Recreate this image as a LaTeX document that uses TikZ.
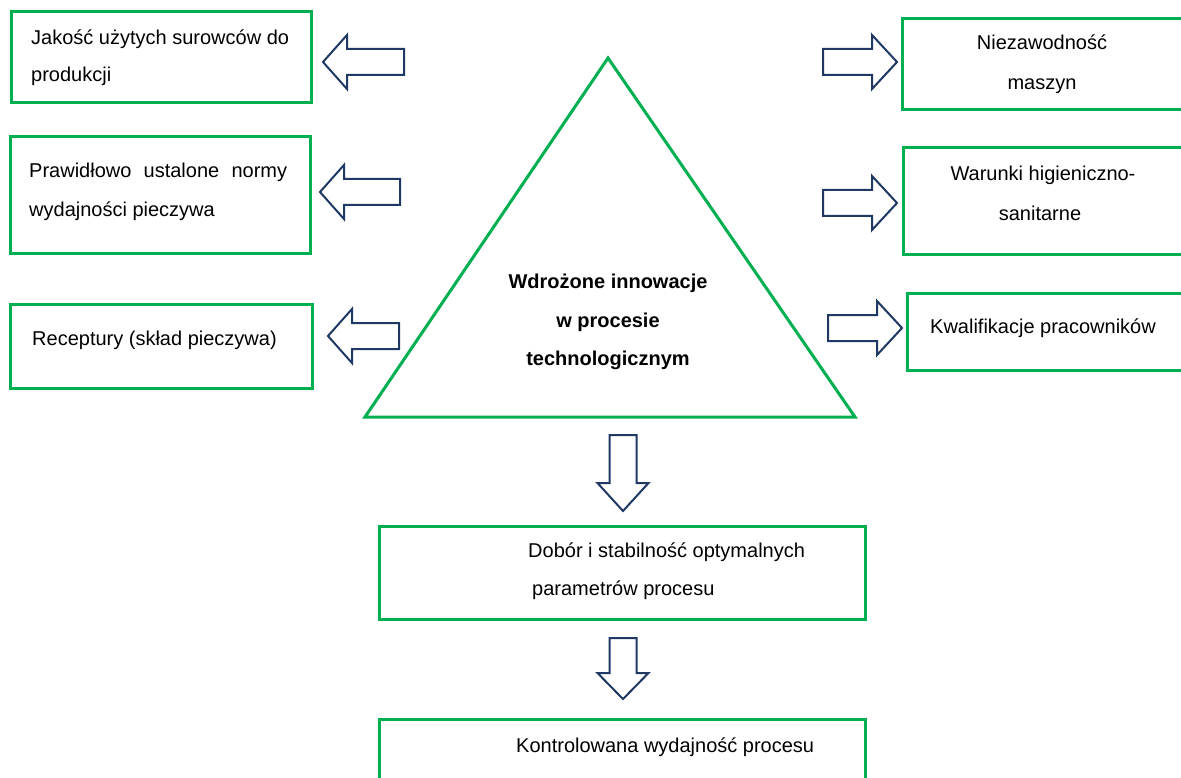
\documentclass[tikz,border=0pt]{standalone}
\usepackage{fontspec}
\setmainfont{Liberation Sans}
\definecolor{boxgreen}{RGB}{0,176,80}
\definecolor{arrownavy}{RGB}{31,56,100}
\tikzset{
  gbox/.style={draw=boxgreen, line width=3pt, rectangle, inner sep=0pt, outer sep=0pt, anchor=north west},
  gline/.style={draw=boxgreen, line width=3pt, line join=miter},
  barrow/.style={draw=arrownavy, line width=2pt, line join=miter, fill=white},
  txt/.style={anchor=base west, inner sep=0pt, font=\fontsize{20}{24}\selectfont},
  ctxt/.style={anchor=base, inner sep=0pt, font=\fontsize{20}{24}\selectfont},
  btxt/.style={anchor=base, inner sep=0pt, font=\fontsize{20}{24}\selectfont\bfseries},
}
\newcommand{\LeftBlockArrow}[3]{% tip x, centre y, total length
  \draw[barrow] (#1,#2) -- ++(24,-27) -- ++(0,14) -- ++(#3-24,0) -- ++(0,26) -- ++(-#3+24,0) -- ++(0,14) -- cycle;}
\newcommand{\RightBlockArrow}[3]{% tip x, centre y, total length
  \draw[barrow] (#1,#2) -- ++(-25,-27) -- ++(0,14) -- ++(-#3+25,0) -- ++(0,26) -- ++(#3-25,0) -- ++(0,14) -- cycle;}
\newcommand{\DownBlockArrow}[4]{% centre x, tip y, total length, head length
  \draw[barrow] (#1,#2) -- ++(-25.5,-#4) -- ++(12,0) -- ++(0,-#3+#4) -- ++(27,0) -- ++(0,#3-#4) -- ++(12,0) -- cycle;}
\begin{document}
\begin{tikzpicture}[x=1pt,y=-1pt]
\clip (0,0) rectangle (1181,778);
\fill[white] (0,0) rectangle (1181,778);

% left boxes
\node[gbox, minimum width=300pt, minimum height=91pt] (b1) at (11,12) {};
\node[txt] (t1a) at (31,45) {Jakość użytych surowców do};
\node[txt] (t1b) at (31,82) {produkcji};

\node[gbox, minimum width=300pt, minimum height=117pt] (b2) at (10,137) {};
\node[txt] (t2a) at (29,178) {\hbox to 258pt{Prawidłowo\hfill ustalone\hfill normy}};
\node[txt] (t2b) at (29,217) {wydajności pieczywa};

\node[gbox, minimum width=302pt, minimum height=84pt] (b3) at (10,304) {};
\node[txt] (t3) at (32,345) {Receptury (skład pieczywa)};

% right boxes
\node[gbox, minimum width=290pt, minimum height=91pt] (r1) at (902,19) {};
\node[ctxt] (u1a) at (1042,50) {Niezawodność};
\node[ctxt] (u1b) at (1042,90) {maszyn};

\node[gbox, minimum width=290pt, minimum height=107pt] (r2) at (903,148) {};
\node[ctxt] (u2a) at (1043,181) {Warunki higieniczno-};
\node[ctxt] (u2b) at (1040,221) {sanitarne};

\node[gbox, minimum width=290pt, minimum height=77pt] (r3) at (907,293) {};
\node[txt] (u3) at (930,333) {Kwalifikacje pracowników};

% triangle
\coordinate (apex) at (608,58);
\coordinate (bl) at (365,417);
\coordinate (br) at (855,417);
\draw[gline] (apex) -- (br) -- (bl) -- cycle;
\node[btxt] (c1) at (608,288) {Wdrożone innowacje};
\node[btxt] (c2) at (608,327) {w procesie};
\node[btxt] (c3) at (608,365) {technologicznym};

% bottom boxes
\node[gbox, minimum width=486pt, minimum height=93pt] (d1) at (379,526) {};
\node[txt] (e1a) at (528,557) {Dobór i stabilność optymalnych};
\node[txt] (e1b) at (532,595) {parametrów procesu};

\node[gbox, minimum width=486pt, minimum height=100pt] (d2) at (379,719) {};
\node[txt] (e2) at (516,752) {Kontrolowana wydajność procesu};

% block arrows
\LeftBlockArrow{323}{62}{81}
\LeftBlockArrow{320}{192}{80}
\LeftBlockArrow{328}{336}{71}
\RightBlockArrow{897}{62}{74}
\RightBlockArrow{897}{203}{74}
\RightBlockArrow{902}{328}{74}
\DownBlockArrow{623}{511}{76}{28}
\DownBlockArrow{623}{699}{61}{26}
\end{tikzpicture}
\end{document}
